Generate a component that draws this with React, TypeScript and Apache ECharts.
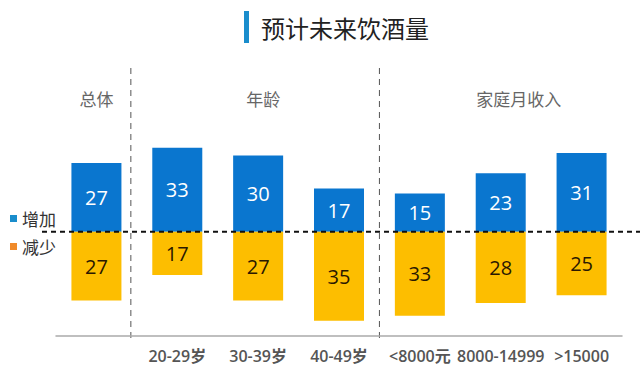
import React, { useEffect, useRef } from "react";
import * as echarts from "echarts";

const categories = ["总体", "20-29岁", "30-39岁", "40-49岁", "<8000元", "8000-14999", ">15000"];
const tickLabels = ["", "20-29岁", "30-39岁", "40-49岁", "<8000元", "8000-14999", ">15000"];
const increase = [27, 33, 30, 17, 15, 23, 31];
const decrease = [27, 17, 27, 35, 33, 28, 25];
const groupLabels = ["总体", "年龄", "家庭月收入"];
const seriesNames = ["增加", "减少"];

const BLUE = "#0a76cf";
const YELLOW = "#fdbe00";
const FONT = "'Open Sans', 'Noto Sans CJK SC', sans-serif";
const CJK = "'Noto Sans CJK SC', sans-serif";

export default function App() {
  const ref = useRef<HTMLDivElement>(null);
  useEffect(() => {
    if (!ref.current) return;
    const chart = echarts.init(ref.current, null, { renderer: "svg" });
    const option: any = {
      animation: false,
      backgroundColor: "#ffffff",
      grid: { left: 56, right: 18, top: 130, bottom: 43 },
      legend: {
        orient: "vertical",
        left: 5,
        top: 205,
        itemWidth: 7,
        itemHeight: 7,
        itemGap: 11,
        icon: "rect",
        textStyle: { fontSize: 17, color: "#333", fontFamily: CJK },
        data: [
          { name: seriesNames[0], itemStyle: { color: "#1a8dcc" } },
          { name: seriesNames[1], itemStyle: { color: "#f08a2a" } },
        ],
        selectedMode: false,
      },
      xAxis: {
        type: "category",
        data: categories,
        axisLine: { onZero: false, lineStyle: { color: "#aaaaaa", width: 1.5 } },
        axisTick: { show: false },
        axisLabel: {
          formatter: (_v: string, i: number) => tickLabels[i],
          fontSize: 16,
          color: "#555",
          fontFamily: FONT,
          fontWeight: 600,
          margin: 12,
          interval: 0,
        },
      },
      yAxis: {
        type: "value",
        min: -41,
        max: 40,
        show: false,
        splitLine: { show: false },
      },
      series: [
        {
          name: seriesNames[0],
          type: "bar",
          stack: "s",
          barWidth: 50,
          data: increase,
          itemStyle: { color: BLUE },
          label: {
            show: true,
            position: "inside",
            color: "#ffffff",
            fontSize: 20,
            fontFamily: FONT,
          },
        },
        {
          name: seriesNames[1],
          type: "bar",
          stack: "s",
          barWidth: 50,
          data: decrease.map((v) => -v),
          itemStyle: { color: YELLOW },
          label: {
            show: true,
            position: "inside",
            color: "#2a1800",
            fontSize: 20,
            fontFamily: FONT,
            formatter: (p: any) => String(Math.abs(p.value)),
          },
        },
      ],
    };
    chart.setOption(option);

    const zeroY = chart.convertToPixel({ yAxisIndex: 0 }, 0) as number;
    const bottomY = chart.convertToPixel({ yAxisIndex: 0 }, -41) as number;
    const c0 = chart.convertToPixel({ xAxisIndex: 0 }, categories[0]) as number;
    const c1 = chart.convertToPixel({ xAxisIndex: 0 }, categories[1]) as number;
    const c3 = chart.convertToPixel({ xAxisIndex: 0 }, categories[3]) as number;
    const c4 = chart.convertToPixel({ xAxisIndex: 0 }, categories[4]) as number;
    const c5 = chart.convertToPixel({ xAxisIndex: 0 }, categories[5]) as number;
    const sep1 = (c0 + c1) / 2 - 6;
    const sep2 = (c3 + c4) / 2;

    chart.setOption({
      graphic: [
        { type: "rect", shape: { x: 244, y: 11, width: 5, height: 32 }, style: { fill: "#1a8dcc" } },
        {
          type: "text",
          x: 261,
          y: 27,
          style: {
            text: "预计未来饮酒量",
            font: `normal 24px ${CJK}`,
            fill: "#222",
            verticalAlign: "middle",
          },
        },
        {
          type: "line",
          shape: { x1: sep1, y1: 68, x2: sep1, y2: bottomY + 2 },
          style: { stroke: "#555", lineWidth: 1, lineDash: [6, 5] },
        },
        {
          type: "line",
          shape: { x1: sep2, y1: 68, x2: sep2, y2: bottomY + 2 },
          style: { stroke: "#555", lineWidth: 1, lineDash: [6, 5] },
        },
        {
          type: "line",
          shape: { x1: 42, y1: zeroY, x2: 640, y2: zeroY },
          style: { stroke: "#111", lineWidth: 2, lineDash: [5, 4] },
          z: 10,
        },
        ...[
          [groupLabels[0], c0],
          [groupLabels[1], (c1 + c3) / 2 + 5],
          [groupLabels[2], c5 + 18],
        ].map(([t, x]) => ({
          type: "text",
          x: x as number,
          y: 98,
          style: {
            text: t as string,
            font: `17px ${CJK}`,
            fill: "#666",
            align: "center",
            verticalAlign: "middle",
          },
        })),
      ],
    });
    return () => chart.dispose();
  }, []);
  return <div ref={ref} style={{ width: 640, height: 379, position: "absolute", left: 0, top: 0 }} />;
}
